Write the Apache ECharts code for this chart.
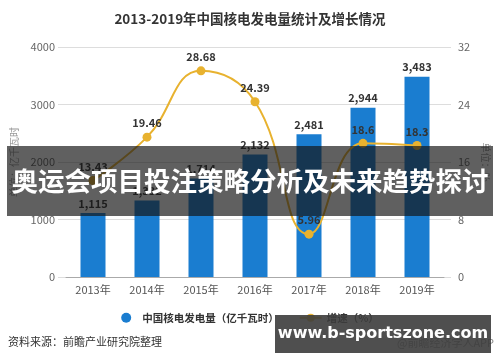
<!DOCTYPE html>
<html><head><meta charset="utf-8">
<script src="https://cdn.jsdelivr.net/npm/echarts@6/dist/echarts.min.js"></script>
<style>html,body{margin:0;padding:0;background:#fff}#c{width:500px;height:362px}</style>
</head><body><div id="c"></div>
<script>
const years = ['2013年','2014年','2015年','2016年','2017年','2018年','2019年'];
const output = [1115, 1332, 1714, 2132, 2481, 2944, 3483];
const growth = [13.43, 19.46, 28.68, 24.39, 5.96, 18.6, 18.3];
const leftTicks = {min: 0, max: 4000, interval: 1000};
const rightTicks = {min: 0, max: 32, interval: 8};

const chart = echarts.init(document.getElementById('c'), null, {renderer: 'canvas'});
const FONT = '"Noto Sans CJK SC","Noto Sans",sans-serif';
chart.setOption({
  animation: false,
  textStyle: {fontFamily: FONT},
  title: {
    text: '2013-2019年中国核电发电量统计及增长情况',
    left: 'center', top: 7,
    textStyle: {fontSize: 13.5, fontWeight: 'bold', color: '#333', fontFamily: FONT}
  },
  legend: {
    bottom: 34, left: 'center', itemGap: 20, itemWidth: 22, itemHeight: 10,
    textStyle: {fontSize: 10.5, color: '#333', fontWeight: 'bold', fontFamily: FONT},
    data: [
      {name: '中国核电发电量（亿千瓦时）', icon: 'circle'},
      {name: '增速（%）'}
    ]
  },
  grid: [
    {left: 66, right: 56, top: 47, bottom: 85},
    {left: 58, right: 49, top: 47, bottom: 85}
  ],
  xAxis: [
    {type: 'category', data: years, gridIndex: 0,
     axisLine: {lineStyle: {color: '#aaa'}}, axisTick: {show: false},
     axisLabel: {color: '#555', fontSize: 11, margin: 7}},
    {type: 'category', data: years, gridIndex: 1, show: false}
  ],
  yAxis: [
    {type: 'value', gridIndex: 0, ...leftTicks,
     name: '单位：亿千瓦时', nameLocation: 'middle', nameRotate: 90, nameGap: 42,
     nameTextStyle: {color: '#999', fontSize: 10},
     axisLabel: {color: '#666', fontSize: 11, margin: 11, formatter: v => String(v)}, splitLine: {show: false},
     axisLine: {show: false}, axisTick: {show: false}},
    {type: 'value', gridIndex: 0, ...rightTicks, position: 'right',
     name: '单位：%', nameLocation: 'middle', nameRotate: -90, nameGap: 32,
     nameTextStyle: {color: '#999', fontSize: 10},
     axisLabel: {color: '#666', fontSize: 11, margin: 14}, splitLine: {show: false},
     axisLine: {show: false}, axisTick: {show: false}},
    {type: 'value', gridIndex: 1, ...leftTicks, axisLabel: {show: false},
     axisLine: {show: false}, axisTick: {show: false},
     splitLine: {show: true, lineStyle: {color: '#ddd'}}}
  ],
  series: [
    {name: '中国核电发电量（亿千瓦时）', type: 'bar', data: output, barWidth: 25,
     xAxisIndex: 0, yAxisIndex: 0, z: 2,
     itemStyle: {color: '#1a7dd0'},
     label: {show: true, position: 'top', distance: 4, color: '#333', fontSize: 11, fontWeight: 'bold',
       formatter: p => p.value.toLocaleString('en-US')}},
    {name: '增速（%）', type: 'line', data: growth, xAxisIndex: 0, yAxisIndex: 1, z: 3,
     smooth: 0.45, symbol: 'circle', symbolSize: 9,
     lineStyle: {color: '#e8b22f', width: 2}, itemStyle: {color: '#e8b22f'},
     label: {show: true, position: 'top', distance: 4, color: '#333', fontSize: 11, fontWeight: 'bold'}}
  ],
  graphic: [
    {type: 'text', left: 8, top: 336, style: {text: '资料来源：前瞻产业研究院整理', fill: '#333', font: '11px ' + FONT}},
    {type: 'text', right: 6, top: 337, style: {text: '@前瞻经济学人APP', fill: '#888', font: '11px ' + FONT}},
    {type: 'rect', shape: {x: 7, y: 146, width: 486, height: 70}, style: {fill: 'rgba(20,20,20,0.68)'}, z: 100},
    {type: 'text', x: 250, y: 181, z: 101,
     style: {text: '奥运会项目投注策略分析及未来趋势探讨', fill: '#fff', font: 'bold 26.5px ' + FONT,
       align: 'center', verticalAlign: 'middle'}},
    {type: 'rect', shape: {x: 275, y: 315, width: 216, height: 38}, style: {fill: 'rgba(60,60,60,0.9)'}, z: 100},
    {type: 'text', x: 383, y: 334, z: 101,
     style: {text: 'www.b-sportszone.com', fill: '#fff', font: 'bold 16px "DejaVu Sans",sans-serif',
       align: 'center', verticalAlign: 'middle'}}
  ]
});
</script></body></html>
